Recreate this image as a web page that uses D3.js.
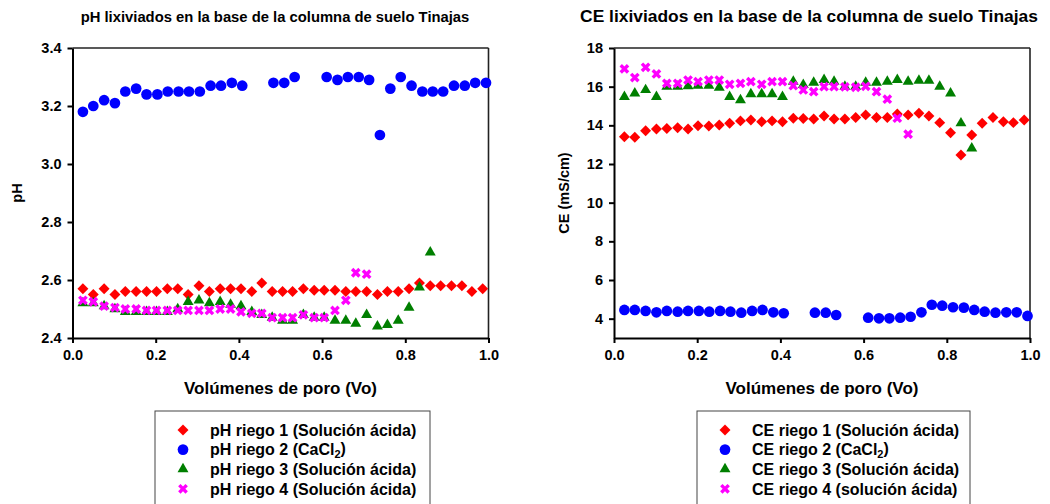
<!DOCTYPE html>
<html><head><meta charset="utf-8">
<script src="https://cdn.jsdelivr.net/npm/d3@7"></script>
<style>
body{margin:0;background:#fff}
svg text{font-family:"Liberation Sans",Arial,sans-serif;font-weight:bold;fill:#000}
</style>
</head><body>
<svg id="c" width="1050" height="504"></svg>
<script>
// ---- data ----
const voA = [0.025,0.050,0.076,0.102,0.127,0.153,0.178,0.202,0.228,0.253,0.278,0.304,0.329,0.355,0.380,0.405,0.431,0.455,0.480,0.505,0.529,0.555,0.581,0.605,0.631,0.657,0.681,0.707,0.733,0.757,0.783,0.809,0.834,0.860,0.885,0.911,0.936,0.960,0.986];
const voB = [0.025,0.050,0.076,0.102,0.127,0.153,0.178,0.204,0.229,0.255,0.280,0.306,0.332,0.357,0.383,0.408,0.434,0.459,0.483,0.509,0.534,0.560,0.585,0.611,0.637,0.662,0.688,0.713,0.739,0.764,0.789,0.815,0.841,0.866,0.891,0.917,0.943,0.968,0.994];

const phRiego1 = [2.57,2.55,2.57,2.55,2.56,2.56,2.56,2.56,2.57,2.57,2.55,2.58,2.56,2.57,2.57,2.57,2.56,2.59,2.56,2.56,2.56,2.57,2.565,2.565,2.565,2.56,2.56,2.56,2.55,2.56,2.56,2.57,2.59,2.58,2.58,2.58,2.58,2.56,2.57];
const phRiego2 = [3.18,3.20,3.22,3.21,3.25,3.26,3.24,3.24,3.25,3.25,3.25,3.25,3.27,3.27,3.28,3.27,null,null,3.28,3.28,3.30,null,null,3.30,3.29,3.30,3.30,3.29,3.10,3.26,3.30,3.27,3.25,3.25,3.25,3.27,3.27,3.28,3.28];
const phRiego3 = [2.52,2.52,2.51,2.50,2.49,2.49,2.49,2.49,2.49,2.50,2.525,2.53,2.52,2.525,2.515,2.51,2.49,2.48,2.47,2.46,2.46,2.48,2.47,2.47,2.46,2.46,2.45,2.48,2.44,2.445,2.46,2.505,2.575,2.695];
const phRiego4 = [2.53,2.525,2.51,2.505,2.50,2.50,2.495,2.495,2.495,2.495,2.495,2.495,2.495,2.50,2.50,2.49,2.485,2.485,2.47,2.47,2.47,2.48,2.47,2.47,2.495,2.53,2.625,2.62];

const ceRiego1 = [13.41,13.38,13.72,13.81,13.84,13.88,13.81,13.98,13.97,14.02,14.11,14.23,14.28,14.19,14.23,14.19,14.37,14.35,14.33,14.48,14.33,14.33,14.40,14.54,14.40,14.40,14.59,14.54,14.62,14.48,14.14,13.62,12.47,13.50,14.11,14.40,14.19,14.14,14.28];
const ceRiego2 = [4.45,4.45,4.40,4.33,4.40,4.36,4.40,4.40,4.36,4.40,4.36,4.31,4.40,4.45,4.33,4.28,null,null,4.31,4.31,4.19,null,null,4.05,4.02,4.02,4.05,4.10,4.33,4.72,4.67,4.59,4.57,4.45,4.36,4.31,4.33,4.33,4.14];
const ceRiego3 = [15.48,15.66,15.83,15.48,16.0,16.0,16.03,16.05,16.05,15.95,15.48,15.30,15.62,15.62,15.62,15.48,16.26,16.09,16.21,16.35,16.26,16.0,16.0,16.21,16.21,16.26,16.35,16.26,16.31,16.31,16.0,15.66,14.11,12.81];
const ceRiego4 = [16.92,16.47,17.0,16.66,16.17,16.17,16.34,16.26,16.34,16.34,16.12,16.17,16.26,16.12,16.26,16.26,16.05,15.83,15.74,16.0,16.0,15.99,15.97,16.02,15.74,15.35,14.37,13.54];

const xTicks = [0.0,0.2,0.4,0.6,0.8,1.0];
const phTicks = [2.4,2.6,2.8,3.0,3.2,3.4];
const ceTicks = [4,6,8,10,12,14,16,18];

const phLegend = ["pH riego 1 (Solución ácida)","pH riego 2 (CaCl|2|)","pH riego 3 (Solución ácida)","pH riego 4 (Solución ácida)"];
const ceLegend = ["CE riego 1 (Solución ácida)","CE riego 2 (CaCl|2|)","CE riego 3 (Solución ácida)","CE riego 4 (solución ácida)"];

// ---- styles ----
const RED="#ff0000", BLUE="#0000ff", GREEN="#007f00", MAG="#ff00ff";
const markers = [
  {type:d3.symbolSquare, size:60, rotate:45, fill:RED},
  {type:d3.symbolCircle, size:90, rotate:0, fill:BLUE},
  {type:d3.symbolTriangle, size:52, rotate:0, fill:GREEN},
  {type:d3.symbolX, size:37, rotate:0, stroke:MAG}
];

const svg = d3.select("#c");

function chart(opt){
  const g = svg.append("g");
  const x = d3.scaleLinear().domain([0,1]).range([opt.x0,opt.x1]);
  const y = d3.scaleLinear().domain(opt.yDomain).range([338,48]);

  // frame top/right
  g.append("line").attr("x1",opt.x0).attr("x2",opt.x1).attr("y1",48).attr("y2",48).attr("stroke","#222").attr("stroke-width",1.6);
  g.append("line").attr("x1",opt.x1).attr("x2",opt.x1).attr("y1",48).attr("y2",338).attr("stroke","#222").attr("stroke-width",1.6);

  const ax = g.append("g").attr("transform","translate(0,338)")
    .call(d3.axisBottom(x).tickValues(xTicks).tickFormat(d3.format(".1f")).tickSize(5).tickPadding(7).tickSizeOuter(0));
  const ay = g.append("g").attr("transform",`translate(${opt.x0},0)`)
    .call(d3.axisLeft(y).tickValues(opt.yTicks).tickFormat(opt.yFmt).tickSize(5).tickPadding(6).tickSizeOuter(0));
  [ax,ay].forEach(a=>{
    a.select(".domain").attr("stroke","#000").attr("stroke-width",2);
    a.selectAll(".tick line").attr("stroke","#000").attr("stroke-width",2);
    a.selectAll(".tick text").attr("font-size",14.5).attr("fill","#000").attr("font-family",null);
  });
  ax.selectAll(".tick text").attr("dy","0.71em");

  // titles
  g.append("text").attr("x",opt.titleX).attr("y",22).attr("text-anchor","middle").attr("font-size",opt.titleSize).text(opt.title);
  g.append("text").attr("x",(opt.x0+opt.x1)/2).attr("y",394).attr("text-anchor","middle").attr("font-size",17).text("Volúmenes de poro (Vo)");
  g.append("text").attr("transform",`translate(${opt.yLabX},193) rotate(-90)`).attr("text-anchor","middle").attr("font-size",14.5).text(opt.yLabel);

  // series
  opt.series.forEach((s,i)=>{
    const m = markers[i];
    const pts = s.vals.map((v,k)=>({x:s.xs[k], y:v})).filter(d=>d.y!=null);
    const gp = g.append("g");
    pts.forEach(d=>{
      const p = gp.append("g").attr("transform",`translate(${x(d.x)},${y(d.y)})`);
      p.append("path").attr("d", d3.symbol(m.type, m.size)())
        .attr("transform", m.rotate?`rotate(${m.rotate})`:null)
        .attr("fill", m.fill||"none").attr("stroke", m.stroke||"none")
        .attr("stroke-width", m.stroke?3.4:0);
    });
  });

  // legend
  const lg = g.append("g");
  lg.append("rect").attr("x",opt.legX).attr("y",411).attr("width",opt.legW).attr("height",110)
    .attr("fill","#fff").attr("stroke","#444").attr("stroke-width",1);
  opt.legend.forEach((t,i)=>{
    const yy = 430 + i*19.6;
    const m = markers[i];
    lg.append("path").attr("d", d3.symbol(m.type, m.size)())
      .attr("transform", `translate(${opt.legX+28},${yy})` + (m.rotate?` rotate(${m.rotate})`:""))
      .attr("fill", m.fill||"none").attr("stroke", m.stroke||"none")
      .attr("stroke-width", m.stroke?3.4:0);
    const parts = t.split("|");
    const tx = lg.append("text").attr("x",opt.legX+55).attr("y",yy).attr("dy","0.36em").attr("font-size",16);
    tx.append("tspan").text(parts[0]);
    if(parts.length>1){
      tx.append("tspan").attr("font-size",11).attr("dy","0.2em").text(parts[1]);
      tx.append("tspan").attr("dy","-0.2em").text(parts[2]);
    }
  });
}

chart({
  x0:72.5, x1:488.5, yDomain:[2.4,3.4], yTicks:phTicks, yFmt:d3.format(".1f"),
  title:"pH lixiviados en la base de la columna de suelo Tinajas", titleX:275, titleSize:14.8,
  yLabel:"pH", yLabX:22, legX:155, legW:275, legend:phLegend,
  series:[{xs:voA,vals:phRiego1},{xs:voB,vals:phRiego2},{xs:voA,vals:phRiego3},{xs:voA,vals:phRiego4}]
});
chart({
  x0:614, x1:1030, yDomain:[3,18], yTicks:ceTicks, yFmt:d3.format("d"),
  title:"CE lixiviados en la base de la columna de suelo Tinajas", titleX:809, titleSize:17.4,
  yLabel:"CE (mS/cm)", yLabX:569, legX:697, legW:273, legend:ceLegend,
  series:[{xs:voA,vals:ceRiego1},{xs:voB,vals:ceRiego2},{xs:voA,vals:ceRiego3},{xs:voA,vals:ceRiego4}]
});
</script>
</body></html>
